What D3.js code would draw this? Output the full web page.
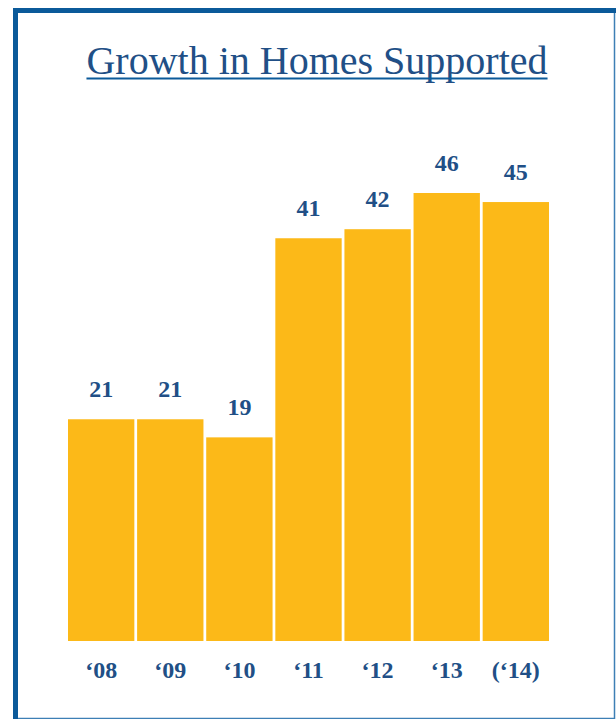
<!DOCTYPE html>
<html>
<head>
<meta charset="utf-8">
<script src="https://cdn.jsdelivr.net/npm/d3@7"></script>
<style>
  html, body { margin: 0; padding: 0; background: #fff; }
  svg { display: block; }
</style>
</head>
<body>
<svg id="chart"></svg>
<script>
const years = ['\u201808', '\u201809', '\u201810', '\u201811', '\u201812', '\u201813', '(\u201814)'];
const homes = [21, 21, 19, 41, 42, 46, 45];
const title = 'Growth in Homes Supported';

const width = 616;
const height = 719;
const blue = '#0b5a9a';
const textBlue = '#214f86';
const gold = '#fcb918';
const font = '"Liberation Serif", "Times New Roman", serif';

const svg = d3.select('#chart')
  .attr('width', width)
  .attr('height', height);

// frame: thin right/bottom, thick left/top
svg.append('rect')
  .attr('x', 15.5)
  .attr('y', 10.5)
  .attr('width', 614 - 15)
  .attr('height', 718 - 10)
  .attr('fill', 'none')
  .attr('stroke', '#3d7fb5')
  .attr('stroke-width', 1.5);

svg.append('rect').attr('x', 13).attr('y', 8).attr('width', 5).attr('height', height - 8).attr('fill', blue);
svg.append('rect').attr('x', 13).attr('y', 8).attr('width', width - 13).attr('height', 5).attr('fill', blue);

// title, underlined
const t = svg.append('text')
  .attr('x', 317)
  .attr('y', 74)
  .attr('text-anchor', 'middle')
  .attr('fill', textBlue)
  .style('font-family', font)
  .style('font-size', '40px')
  .text(title);

const tw = t.node().getComputedTextLength();
svg.append('line')
  .attr('x1', 317 - tw / 2)
  .attr('x2', 317 + tw / 2)
  .attr('y1', 78.5)
  .attr('y2', 78.5)
  .attr('stroke', blue)
  .attr('stroke-width', 2);

const x = d3.scaleBand()
  .domain(years)
  .range([68, 549])
  .paddingInner(0.04)
  .paddingOuter(0);

const y = d3.scaleLinear()
  .domain([-3.5, 46])
  .range([641, 193]);

const bar = svg.append('g')
  .selectAll('g')
  .data(years.map((d, i) => ({ year: d, value: homes[i] })))
  .enter()
  .append('g')
  .attr('class', 'bar');

bar.append('rect')
  .attr('x', d => x(d.year))
  .attr('width', x.bandwidth())
  .attr('y', d => y(d.value))
  .attr('height', d => y(-3.5) - y(d.value))
  .attr('fill', gold);

bar.append('text')
  .attr('x', d => x(d.year) + x.bandwidth() / 2)
  .attr('y', d => y(d.value) - 22)
  .attr('text-anchor', 'middle')
  .attr('fill', textBlue)
  .style('font-family', font)
  .style('font-size', '24px')
  .style('font-weight', 'bold')
  .text(d => d.value);

const xAxis = d3.axisBottom(x).tickSize(0).tickPadding(0);

svg.append('g')
  .attr('transform', 'translate(0,' + 661 + ')')
  .call(xAxis)
  .call(g => g.select('.domain').remove())
  .selectAll('text')
  .attr('fill', textBlue)
  .attr('dy', '0.71em')
  .style('font-family', font)
  .style('font-size', '24px')
  .style('font-weight', 'bold');
</script>
</body>
</html>
